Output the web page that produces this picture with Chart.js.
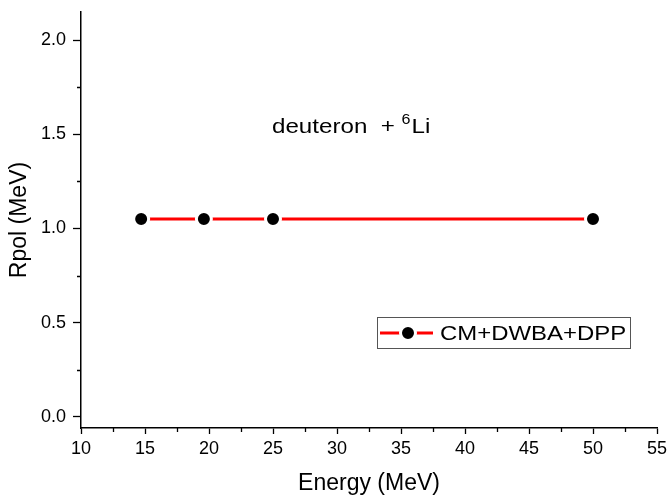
<!DOCTYPE html>
<html>
<head>
<meta charset="utf-8">
<script src="https://cdn.jsdelivr.net/npm/chart.js@4"></script>
<style>
  html, body { margin: 0; padding: 0; background: #fff; }
</style>
</head>
<body>
<canvas id="rpolChart" width="669" height="497"></canvas>
<script>
// data
const energy = [14.7, 19.6, 25, 50];
const rpol = [1.05, 1.05, 1.05, 1.05];
const seriesName = "CM+DWBA+DPP";

const xTicks = [10, 15, 20, 25, 30, 35, 40, 45, 50, 55];
const xMinor = [12.5, 17.5, 22.5, 27.5, 32.5, 37.5, 42.5, 47.5, 52.5];
const yTicks = [0, 0.5, 1.0, 1.5, 2.0];
const yMinor = [0.25, 0.75, 1.25, 1.75];

const FONT = '"Liberation Sans", Arial, sans-serif';

// draw text a bit wider, the original export has stretched glyphs
function wideText(ctx, txt, x, y, sx) {
	ctx.save();
	ctx.translate(x, y);
	ctx.scale(sx, 1);
	ctx.fillText(txt, 0, 0);
	ctx.restore();
	return ctx.measureText(txt).width * sx;
}

// minor ticks, legend box and the reaction label
const extras = {
	id: "extras",
	afterDraw(chart) {
		const ctx = chart.ctx;
		const xs = chart.scales.x;
		const ys = chart.scales.y;
		const area = chart.chartArea;

		ctx.save();
		ctx.strokeStyle = "#000";
		ctx.lineWidth = 1.3;
		ctx.beginPath();
		xMinor.forEach(v => {
			const px = Math.round(xs.getPixelForValue(v)) + 0.5;
			ctx.moveTo(px, area.bottom);
			ctx.lineTo(px, area.bottom + 4);
		});
		yMinor.forEach(v => {
			const py = Math.round(ys.getPixelForValue(v)) + 0.5;
			ctx.moveTo(area.left, py);
			ctx.lineTo(area.left - 4, py);
		});
		ctx.stroke();

		// reaction label: deuteron + 6Li
		const sx = 1.15;
		ctx.fillStyle = "#000";
		ctx.textBaseline = "alphabetic";
		ctx.font = "21px " + FONT;
		let tx = 272, ty = 133;
		tx += wideText(ctx, "deuteron  + ", tx, ty, sx);
		ctx.font = "14px " + FONT;
		tx += wideText(ctx, "6", tx, ty - 9, sx) + 1;
		ctx.font = "21px " + FONT;
		wideText(ctx, "Li", tx, ty, sx);

		// legend
		const lx = 377, ly = 317, lw = 253, lh = 31;
		ctx.lineWidth = 1;
		ctx.strokeStyle = "#555";
		ctx.strokeRect(lx + 0.5, ly + 0.5, lw, lh);
		const my = ly + lh / 2 + 0.5;
		ctx.strokeStyle = "#ff0000";
		ctx.lineWidth = 3;
		ctx.beginPath();
		ctx.moveTo(lx + 3, my);
		ctx.lineTo(lx + 56, my);
		ctx.stroke();
		ctx.beginPath();
		ctx.arc(lx + 31, my, 7.5, 0, Math.PI * 2);
		ctx.fillStyle = "#000";
		ctx.fill();
		ctx.strokeStyle = "#fff";
		ctx.stroke();
		ctx.fillStyle = "#000";
		ctx.font = "21px " + FONT;
		ctx.textBaseline = "middle";
		wideText(ctx, seriesName, lx + 63, my + 1, 1.14);
		ctx.restore();
	}
};

function showChart() {
	const ctx = document.getElementById("rpolChart");

	const points = energy.map((e, i) => ({ x: e, y: rpol[i] }));

	new Chart(ctx, {
		type: "scatter",
		data: {
			datasets: [
				{
					label: seriesName,
					data: points,
					showLine: true,
					borderColor: "#ff0000",
					borderWidth: 3,
					pointRadius: 7.5,
					pointHoverRadius: 7.5,
					pointBackgroundColor: "#000",
					pointBorderColor: "#fff",
					pointBorderWidth: 3,
				},
			],
		},
		options: {
			responsive: false,
			animation: false,
			layout: { padding: { top: 12, right: 12, left: 0, bottom: 0 } },
			plugins: {
				legend: { display: false },
				tooltip: { enabled: false },
			},
			scales: {
				x: {
					type: "linear",
					min: 10,
					max: 55,
					afterBuildTicks: s => { s.ticks = xTicks.map(v => ({ value: v })); },
					afterFit: s => { s.height = 69; s.paddingLeft = 0; s.paddingRight = 0; },
					grid: { drawOnChartArea: false, drawTicks: true, tickLength: 6, tickColor: "#000", tickWidth: 1.3 },
					border: { color: "#000", width: 1.5 },
					ticks: {
						color: "#000",
						padding: 4,
						maxRotation: 0,
						font: { family: FONT, size: 18 },
						callback: v => String(v),
					},
					title: {
						display: true,
						text: "Energy (MeV)",
						color: "#000",
						font: { family: FONT, size: 23 },
						padding: { top: 0, bottom: 0 },
					},
				},
				y: {
					type: "linear",
					min: -0.06,
					max: 2.15,
					afterBuildTicks: s => { s.ticks = yTicks.map(v => ({ value: v })); },
					afterFit: s => { s.width = 81; s.paddingTop = 0; s.paddingBottom = 0; },
					grid: { drawOnChartArea: false, drawTicks: true, tickLength: 8, tickColor: "#000", tickWidth: 1.3 },
					border: { color: "#000", width: 1.5 },
					ticks: {
						color: "#000",
						padding: 7,
						font: { family: FONT, size: 18 },
						callback: v => Number(v).toFixed(1),
					},
					title: {
						display: true,
						text: "Rpol (MeV)",
						color: "#000",
						font: { family: FONT, size: 23 },
						padding: { top: 6, bottom: 0 },
					},
				},
			},
		},
		plugins: [extras],
	});
}

showChart();
</script>
</body>
</html>
